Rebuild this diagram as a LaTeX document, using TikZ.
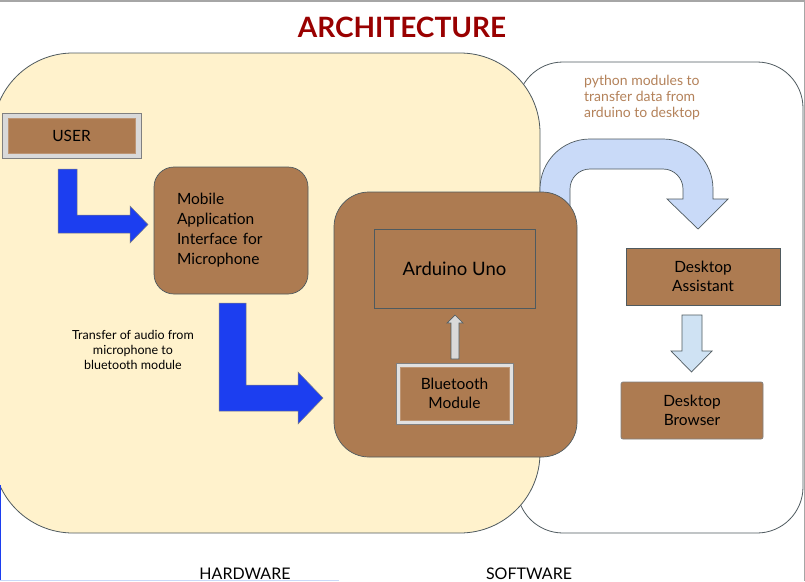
\documentclass[tikz,border=0pt]{standalone}
\usepackage{fontspec}
\setmainfont{Lato}
\usetikzlibrary{positioning}
\definecolor{cream}{HTML}{FFF2CC}
\definecolor{brownbox}{HTML}{AD7B51}
\definecolor{edgegray}{HTML}{4F5A5F}
\definecolor{lightgray}{HTML}{D9D9D9}
\definecolor{strongblue}{HTML}{1C3EF0}
\definecolor{paleblue}{HTML}{C9DAF8}
\definecolor{paleblueb}{HTML}{CFE2F3}
\definecolor{titlered}{HTML}{990000}
\definecolor{notebrown}{HTML}{B4825A}
\tikzset{
x=1pt, y=-1pt, % one unit is one pixel of the screenshot, y runs downwards
panel/.style={draw=edgegray, line width=0.8pt, outer sep=0pt}, % the two big areas
brownbox/.style={draw=edgegray, fill=brownbox, line width=0.7pt, inner sep=0pt, outer sep=0pt}, % every component box
greyframe/.style={draw=gray, fill=lightgray, line width=0.8pt, inner sep=0pt, outer sep=0pt}, % light frame round USER and Bluetooth
bluearrow/.style={draw=gray, fill=strongblue, line width=0.5pt}, % the big L-shaped arrows
palearrow/.style={draw=edgegray, line width=0.7pt}, % the light blue arrows
boxtext/.style={font=\fontsize{15.5}{20}\selectfont, align=center}, % text inside the boxes
}

\begin{document}
\begin{tikzpicture}
        \useasboundingbox (0,0) rectangle (805,581);

        % the two areas
        \node[panel, fill=white, rounded corners=46pt, minimum width=286pt, minimum height=471pt] (software) at (660,297.5) {};
        \node[panel, fill=cream, rounded corners=80pt, minimum width=547pt, minimum height=480pt] (hardware) at (266.5,293) {};

        % flow from arduino to desktop
        \draw[palearrow, fill=paleblue] (540,215) -- (540,189) arc[start angle=180, end angle=270, radius=50]
              -- (663,139) arc[start angle=270, end angle=360, radius=50]
              -- (713,199) -- (728,199) -- (698,229) -- (667,199) -- (683,199)
              -- (683,189) arc[start angle=0, end angle=-90, radius=20]
              -- (590,169) arc[start angle=270, end angle=180, radius=20]
              -- (570,215) -- cycle;

        \node[font=\fontsize{28}{32}\selectfont\bfseries, text=titlered] (title) at (402,27) {ARCHITECTURE};

        % hardware side
        \node[greyframe, minimum width=139pt, minimum height=45pt] (userframe) at (71.5,135.5) {};
        \node[brownbox, draw=brownbox!80!white, minimum width=127pt, minimum height=35pt, boxtext] (user) at (userframe.center) {USER};

        \node[brownbox, rounded corners=20pt, minimum width=154pt, minimum height=127pt, boxtext, align=left, text width=108pt] (mobile) at (231,230.5) {Mobile\\Application\\Interface for\\Microphone};

        \node[brownbox, rounded corners=35pt, minimum width=243pt, minimum height=265pt] (arduino) at (455.5,324.5) {};
        \node[brownbox, minimum width=161pt, minimum height=79pt, font=\fontsize{18.5}{22}\selectfont] (uno) at (454.5,268.5) {Arduino Uno};
        \node[greyframe, fill=lightgray!80!white, minimum width=117pt, minimum height=61pt] (btframe) at (454.5,393.5) {};
        \node[brownbox, draw=brownbox!80!white, minimum width=109pt, minimum height=53pt, boxtext, font=\fontsize{15.5}{19}\selectfont] (bt) at (btframe.center) {Bluetooth\\Module};

        \draw[palearrow, fill=lightgray] (451,359) -- (451,323) -- (447,323) -- (455,315) -- (463,323) -- (459,323) -- (459,359) -- cycle;

        \draw[bluearrow] (58,169) -- (77,169) -- (77,215) -- (130,215) -- (130,206) -- (148,224.5)
              -- (130,243) -- (130,233) -- (58,233) -- cycle;
        \draw[bluearrow] (219,303) -- (246,303) -- (246,385) -- (298,385) -- (298,372) -- (323,398)
              -- (298,424) -- (298,411) -- (219,411) -- cycle;

        \node[font=\fontsize{12.5}{15}\selectfont, align=center] (audio) at (133,350) {Transfer of audio from\\microphone to\\bluetooth module};

        % software side
        \node[font=\fontsize{14}{16}\selectfont, text=notebrown, align=left, anchor=west, inner sep=0pt] (python) at (584,98) {python modules to\\transfer data from\\arduino to desktop};

        \node[brownbox, minimum width=154pt, minimum height=57pt, boxtext, font=\fontsize{15.5}{19.5}\selectfont] (assistant) at (703,276.5) {Desktop\\Assistant};
        \node[brownbox, draw=gray, rounded corners=2pt, minimum width=142pt, minimum height=57pt, boxtext, font=\fontsize{15.5}{19.5}\selectfont] (browser) at (692,410.5) {Desktop\\Browser};

        \draw[palearrow, fill=paleblueb] (682,315) -- (702,315) -- (702,351) -- (712,351) -- (691.5,372)
              -- (671,351) -- (682,351) -- cycle;

        \node[font=\fontsize{16}{18}\selectfont, anchor=base] (hwlabel) at (245,579) {HARDWARE};
        \node[font=\fontsize{16}{18}\selectfont, anchor=base] (swlabel) at (529,579) {SOFTWARE};

        % frame of the screenshot
        \draw[gray!70, line width=1.5pt] (0,0.75) -- (804.25,0.75) -- (804.25,581);
        \draw[strongblue, line width=1.2pt] (0.6,485) -- (0.6,581);
        \draw[paleblue, line width=1.2pt] (0,580.4) -- (339,580.4);
\end{tikzpicture}
\end{document}
